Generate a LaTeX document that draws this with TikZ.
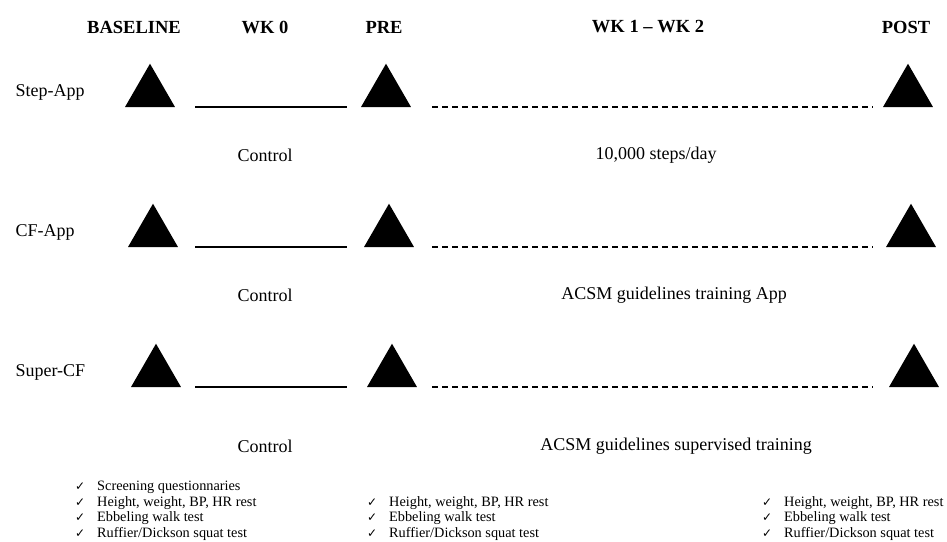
\documentclass[tikz,border=0pt]{standalone}
\usepackage{fontspec}
\setmainfont{Liberation Serif}
\newfontfamily\symfont{DejaVu Sans}
\usetikzlibrary{shapes.geometric}
\begin{document}
\begin{tikzpicture}[x=1pt,y=-1pt,
  header/.style={font=\fontsize{18.5}{20}\selectfont\bfseries},
  grouptext/.style={font=\fontsize{18}{20}\selectfont},
  tri/.style={regular polygon, regular polygon sides=3, fill=black,
    minimum size=57.7pt, inner sep=0pt, outer sep=0pt, anchor=side 2},
  solidline/.style={line width=1.2pt},
  dashline/.style={line width=1.2pt, dash pattern=on 6pt off 4pt},
  checkitem/.style={anchor=base west, inner sep=0pt, font=\fontsize{14.3}{16}\selectfont}
]
  \newcommand{\chk}{\makebox[22pt][l]{\symfont\fontsize{12}{12}\selectfont ✓}}
  \useasboundingbox (0,0) rectangle (947,541);

  % phase headers
  \node[header] (baseline) at (134,27) {BASELINE};
  \node[header] (wk0) at (265,27) {WK 0};
  \node[header] (pre) at (384,27) {PRE};
  \node[header] (wk12) at (648,27) {WK 1 -- WK 2};
  \node[header] (post) at (906,27) {POST};

  % groups
  \foreach \name/\txt/\y/\dx in {step/Step-App/107/0, cf/CF-App/247/3, super/Super-CF/387/6} {
    \node[grouptext, anchor=west] (\name-lbl) at (12,\y-15) {\txt};
    \node[tri] (\name-base) at (150+\dx,\y) {};
    \node[tri] (\name-pre) at (386+\dx,\y) {};
    \node[tri] (\name-post) at (908+\dx,\y) {};
    \coordinate (\name-s1) at (195,\y);
    \coordinate (\name-s2) at (347,\y);
    \coordinate (\name-d1) at (432,\y);
    \coordinate (\name-d2) at (873,\y);
    \draw[solidline] (\name-s1) -- (\name-s2);
    \draw[dashline] (\name-d1) -- (\name-d2);
  }

  % what each group does
  \node[grouptext] (step-ctrl) at (265,155) {Control};
  \node[grouptext] (step-int) at (656,155) {10,000 steps/day};
  \node[grouptext] (cf-ctrl) at (265,295) {Control};
  \node[grouptext] (cf-int) at (674,295) {ACSM guidelines training App};
  \node[grouptext] (super-ctrl) at (265,446) {Control};
  \node[grouptext] (super-int) at (676,446) {ACSM guidelines supervised training};

  % measurements
  \foreach \t [count=\i] in {Screening questionnaries, {Height, weight, BP, HR rest},
      Ebbeling walk test, Ruffier/Dickson squat test}
    \node[checkitem] (base-chk-\i) at (75,475+15.5*\i) {\chk\t};
  \foreach \t [count=\i] in {{Height, weight, BP, HR rest}, Ebbeling walk test,
      Ruffier/Dickson squat test} {
    \node[checkitem] (pre-chk-\i) at (367,490.5+15.5*\i) {\chk\t};
    \node[checkitem] (post-chk-\i) at (762,490.5+15.5*\i) {\chk\t};
  }
\end{tikzpicture}
\end{document}
